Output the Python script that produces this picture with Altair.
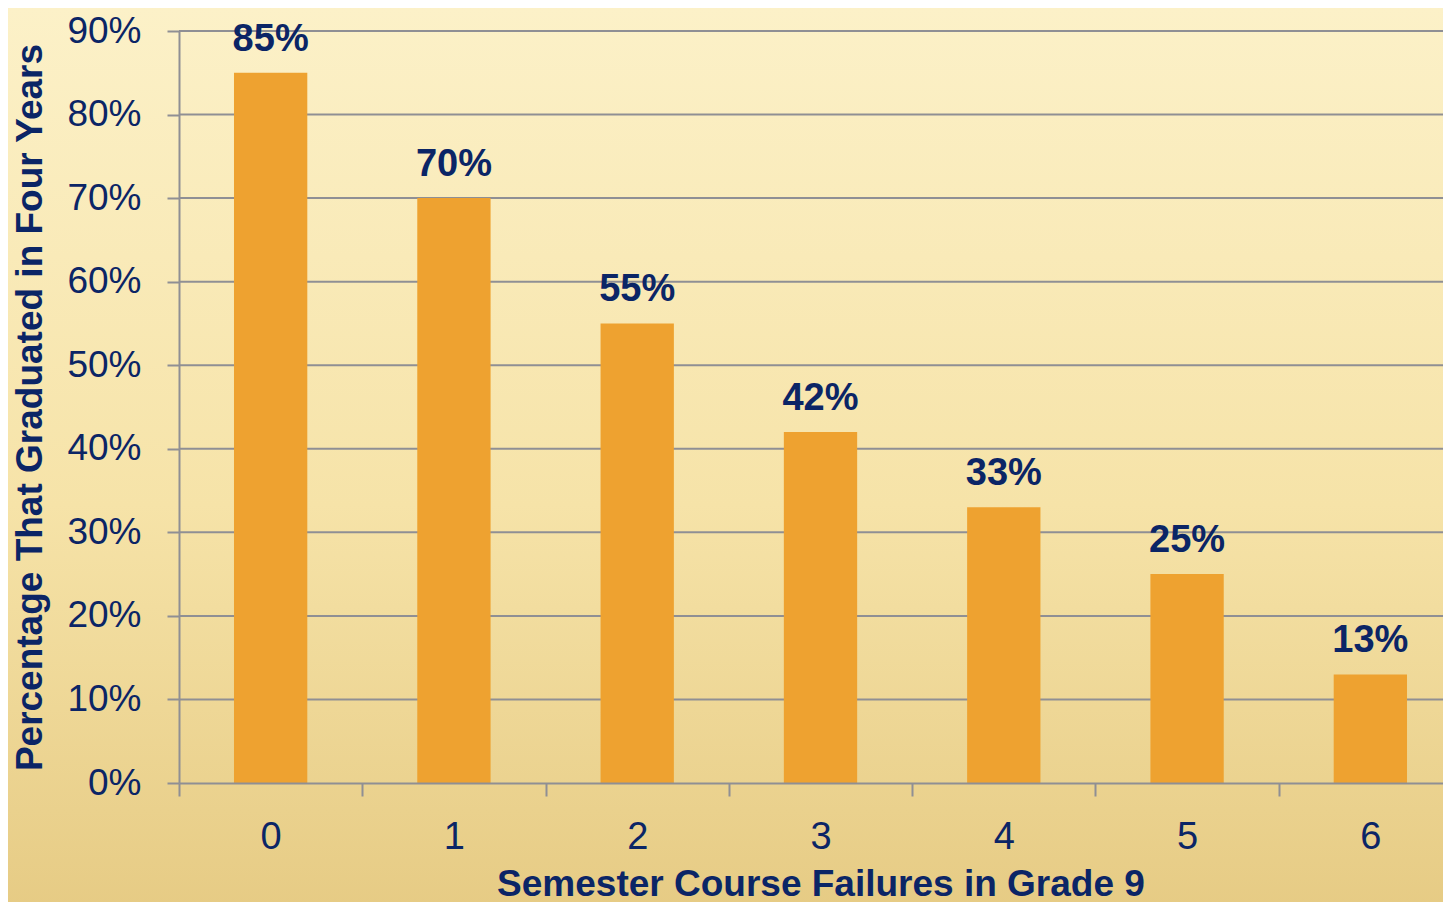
import altair as alt
import pandas as pd

failures = ["0", "1", "2", "3", "4", "5", "6"]
grad_pct = [85, 70, 55, 42, 33, 25, 13]
pct_labels = ["85%", "70%", "55%", "42%", "33%", "25%", "13%"]
y_ticks = [0, 10, 20, 30, 40, 50, 60, 70, 80, 90]

NAVY = "#0B2566"
BAR = "#EEA230"
GRID = "#8F8F94"
FONT = "Liberation Sans"

W, H = 1264, 752
XRANGE = 1283
PAD = {"left": 171, "top": 23, "right": 0, "bottom": 119}

df = pd.DataFrame({"Failures": failures, "Pct": grad_pct, "Label": pct_labels})
grid_df = pd.DataFrame({"t": y_ticks[1:]})

bg = alt.Chart(alt.Data(values=[{"a": 1}])).mark_rect(
    fill=alt.Gradient(
        gradient="linear",
        stops=[alt.GradientStop(color="#FCF1C8", offset=0),
               alt.GradientStop(color="#F6E3A8", offset=0.55),
               alt.GradientStop(color="#E6CB84", offset=1)],
        x1=0, x2=0, y1=0, y2=1,
    )
).encode(
    x=alt.value(-PAD["left"]), x2=alt.value(W + 40),
    y=alt.value(-PAD["top"]), y2=alt.value(H + PAD["bottom"] + 10),
)

grid = alt.Chart(grid_df).mark_rule(color=GRID, strokeWidth=2).encode(
    y=alt.Y("t:Q", scale=alt.Scale(domain=[0, 90])),
    x=alt.value(0), x2=alt.value(XRANGE),
)

x_enc = alt.X(
    "Failures:O",
    sort=failures,
    scale=alt.Scale(range=[0, XRANGE], paddingInner=0, paddingOuter=0),
    axis=alt.Axis(
        title="Semester Course Failures in Grade 9",
        titleFont=FONT, titleFontSize=37, titleFontWeight="bold", titleColor=NAVY,
        titleX=XRANGE / 2, titleY=112, titleBaseline="alphabetic", titleAlign="center",
        labelFont=FONT, labelFontSize=38, labelColor=NAVY, labelAngle=0,
        labelBaseline="alphabetic", labelPadding=52,
        tickBand="extent", tickSize=13, tickColor=GRID, tickWidth=2,
        domainColor=GRID, domainWidth=2, grid=False, zindex=1,
    ),
)
y_enc = alt.Y(
    "Pct:Q",
    scale=alt.Scale(domain=[0, 90], nice=False),
    axis=alt.Axis(
        title="Percentage That Graduated in Four Years",
        titleFont=FONT, titleFontSize=37, titleFontWeight="bold", titleColor=NAVY,
        titleX=-149, titleY=H / 2, titleBaseline="middle", titleAlign="center", titleAngle=270,
        values=y_ticks, labelExpr="datum.value + '%'",
        labelFont=FONT, labelFontSize=37, labelColor=NAVY, labelPadding=26,
        tickSize=12, tickColor=GRID, tickWidth=2,
        domainColor=GRID, domainWidth=2, grid=False, zindex=1,
    ),
)

bars = alt.Chart(df).mark_bar(color=BAR, width=alt.RelativeBandSize(0.4)).encode(x=x_enc, y=y_enc)
labels = alt.Chart(df).mark_text(
    font=FONT, fontSize=38, fontWeight="bold", color=NAVY,
    baseline="alphabetic", align="center", dy=-22,
).encode(x=alt.X("Failures:O", sort=failures), y="Pct:Q", text="Label:N")

chart = alt.layer(bg, grid, bars, labels).properties(
    width=W, height=H,
    autosize=alt.AutoSizeParams(type="none"),
    padding=PAD,
    background="#F3DE9E",
).configure_view(stroke=None)

chart.save("out.html", embed_options={"renderer": "svg", "actions": False})
